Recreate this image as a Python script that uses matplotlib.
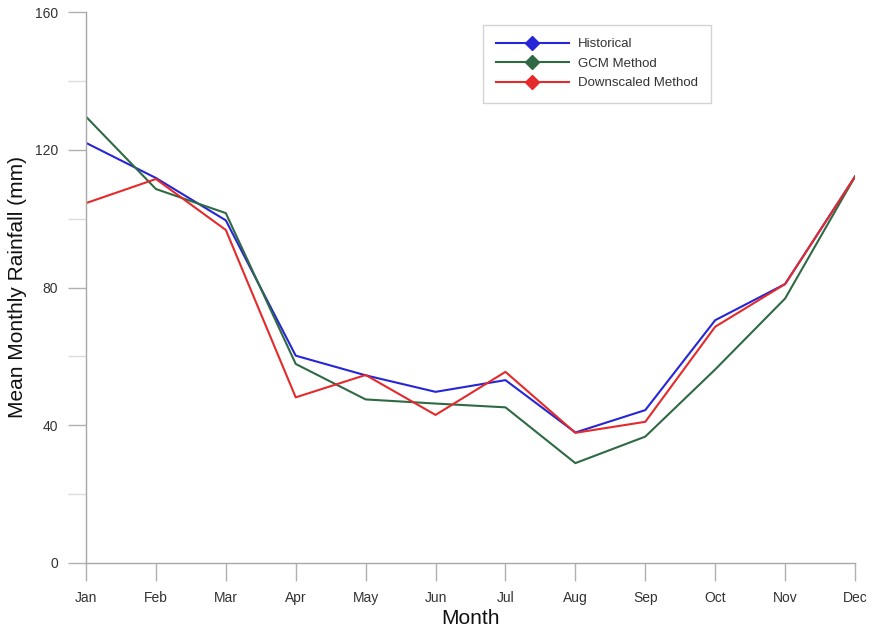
import matplotlib
matplotlib.use("Agg")
import matplotlib.pyplot as plt
from matplotlib.ticker import MultipleLocator
from matplotlib.lines import Line2D

plt.rcParams['font.family'] = ['Liberation Sans Narrow', 'Liberation Sans', 'DejaVu Sans']

months = ["Jan", "Feb", "Mar", "Apr", "May", "Jun",
          "Jul", "Aug", "Sep", "Oct", "Nov", "Dec"]
historical = [122.0, 111.8, 99.5, 60.2, 54.5, 49.7, 53.1, 37.9, 44.4, 70.5, 81.0, 112.2]
gcm_method = [129.6, 108.6, 101.6, 57.8, 47.5, 46.3, 45.2, 29.0, 36.7, 56.2, 76.8, 112.2]
downscaled = [104.5, 111.5, 96.7, 48.1, 54.6, 43.0, 55.5, 37.8, 41.0, 68.6, 81.0, 112.2]

series = [
    ("Historical", historical, "#2626d6"),
    ("GCM Method", gcm_method, "#2f6a44"),
    ("Downscaled Method", downscaled, "#e42a2a"),
]

fig = plt.figure(figsize=(8.74, 6.36), dpi=100)
ax = fig.add_axes([86 / 874, 73 / 636, (855 - 86) / 874, (563 - 12) / 636])

x = list(range(len(months)))
for label, values, color in series:
    ax.plot(x, values, color=color, lw=1.5, label=label)

ax.set_xlim(0, len(months) - 1)
ax.set_ylim(0, 160)
ax.set_xticks(x)
ax.set_xticklabels(months)
ax.yaxis.set_major_locator(MultipleLocator(40))
ax.yaxis.set_minor_locator(MultipleLocator(20))

for side in ("top", "right"):
    ax.spines[side].set_visible(False)
for side in ("left", "bottom"):
    ax.spines[side].set_color("#a8a8a8")
    ax.spines[side].set_linewidth(1.0)

ax.tick_params(axis="both", which="major", direction="out", length=13,
               width=1.0, color="#b0b0b0", labelsize=10, labelcolor="#333333", pad=7)
ax.tick_params(axis="y", which="minor", direction="out", length=13,
               width=1.0, color="#dcdcdc")
ax.tick_params(axis="x", which="minor", length=0)

ax.set_xlabel("Month", fontsize=15, color="#111111", labelpad=3)
ax.set_ylabel("Mean Monthly Rainfall (mm)", fontsize=15, color="#111111", labelpad=6)

# legend handles show a single diamond marker in the middle of each line
handles = [Line2D([0], [0], color=c, lw=1.5, marker="D", markersize=7,
                  markerfacecolor=c, markeredgecolor=c) for _, _, c in series]
leg = ax.legend(handles, [s[0] for s in series], loc="upper left",
                bbox_to_anchor=((483 - 86) / (855 - 86), (563 - 25) / (563 - 12)),
                fontsize=9.5, frameon=True, fancybox=False, handlelength=5.5,
                handletextpad=0.7, borderpad=1.0, labelspacing=0.55,
                borderaxespad=0, edgecolor="#c8c8c8", labelcolor="#333333")
leg.get_frame().set_linewidth(1.0)

fig.savefig("out.png", dpi=100, facecolor="white")
